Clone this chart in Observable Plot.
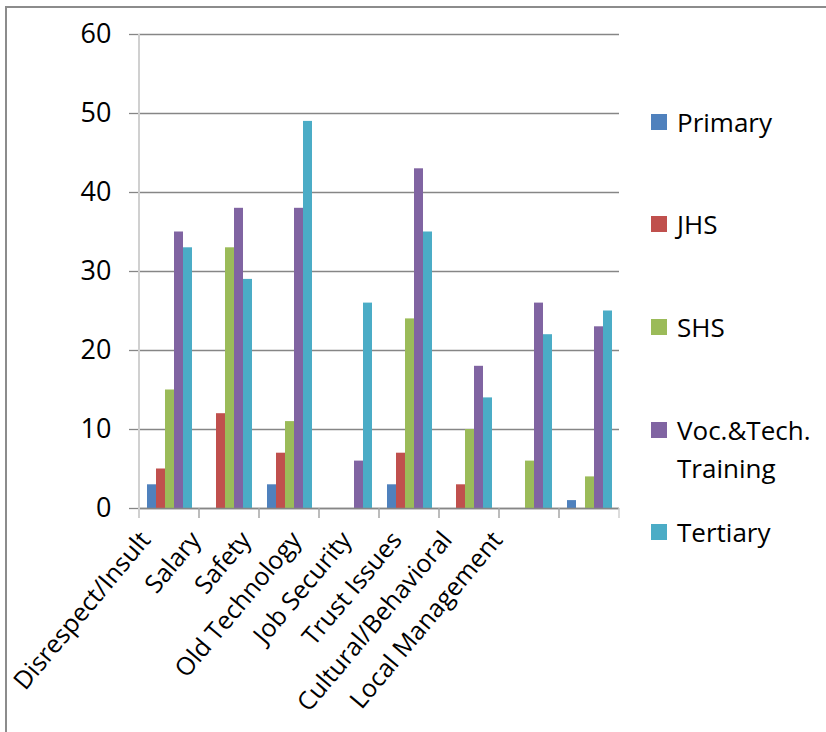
<!DOCTYPE html>
<html><head><meta charset="utf-8">
<script src="https://cdn.jsdelivr.net/npm/d3@7"></script>
<script src="https://cdn.jsdelivr.net/npm/@observablehq/plot@0.6"></script>
<style>
html,body{margin:0;padding:0;width:826px;height:732px;overflow:hidden;background:#fff;font-family:"Open Sans",sans-serif;}
#wrap{position:relative;width:826px;height:732px;overflow:hidden;}
#frame{position:absolute;left:5px;top:6px;width:900px;height:900px;border:2px solid #8c8c8c;box-sizing:border-box;}
#chart{position:absolute;left:0;top:0;}
#legend{position:absolute;left:651px;top:0;width:175px;height:732px;}
.item{position:absolute;left:0;width:175px;}
.sw{position:absolute;left:0;top:10px;width:16px;height:16px;}
.lab{position:absolute;left:26px;top:0;width:148px;font-size:26px;line-height:38px;color:#000;white-space:normal;margin-top:-1px;}
</style></head>
<body>
<div id="wrap"><div id="frame"></div><div id="chart"></div><div id="legend"></div></div>
<script>
const categories = ["Disrespect/Insult","Salary","Safety","Old Technology","Job Security","Trust Issues","Cultural/Behavioral","Local Management"];
const series = ["Primary","JHS","SHS","Voc.&Tech. Training","Tertiary"];
const primary  = [3, 0, 3, 0, 3, 0, 0, 1];
const jhs      = [5, 12, 7, 0, 7, 3, 0, 0];
const shs      = [15, 33, 11, 0, 24, 10, 6, 4];
const voc      = [35, 38, 38, 6, 43, 18, 26, 23];
const tertiary = [33, 29, 49, 26, 35, 14, 22, 25];
const colors = ["#4F81BD","#C0504D","#9BBB59","#8064A2","#4BACC6"];
const yTicks = [0, 10, 20, 30, 40, 50, 60];
const legendCenters = [122, 224, 327, 430, 532];

const valueSets = [primary, jhs, shs, voc, tertiary];
const data = [];
categories.forEach((c, i) => series.forEach((s, j) => {
  if (valueSets[j][i] > 0) data.push({category: c, series: s, value: valueSets[j][i]});
}));

// category labels: rotated, drifting left progressively as in the original layout
const labelMarks = categories.map((c, i) =>
  Plot.text([c], {fx: d => d, text: d => d, frameAnchor: "bottom", rotate: -50,
    textAnchor: "end", lineAnchor: "middle", fontSize: 25, fill: "#000",
    dx: -24 - 9.7 * i, dy: 27}));

const plot = Plot.plot({
  width: 826, height: 732,
  marginLeft: 136, marginRight: 204, marginTop: 34, marginBottom: 224,
  style: {fontFamily: '"Open Sans", sans-serif', background: "transparent", color: "#000", overflow: "visible"},
  fx: {domain: categories, padding: 0, label: null, axis: null},
  x: {domain: series, paddingInner: 0, paddingOuter: 0.77, axis: null},
  y: {domain: [0, 60], label: null, axis: null},
  color: {domain: series, range: colors},
  marks: [
    Plot.gridY(yTicks, {stroke: "#868686", strokeOpacity: 1, strokeWidth: 1.3}),
    Plot.axisY(yTicks, {tickSize: 10, tickPadding: 18, fontSize: 27, stroke: "#868686", strokeWidth: 1.3, fill: "#000", label: null}),
    Plot.barY(data, {fx: "category", x: "series", y: "value", fill: "series", insetLeft: 0, insetRight: 0}),
    Plot.ruleY([0], {stroke: "#868686", strokeWidth: 1.5}),
    ...labelMarks
  ]
});
document.getElementById("chart").appendChild(plot);

// axis line and category boundary ticks from the plot's own scales
const fxs = plot.scale("fx"), ys = plot.scale("y");
const svg = d3.select(plot);
const y0 = ys.apply(0), yTop = ys.apply(60);
const bounds = categories.map(c => fxs.apply(c));
bounds.push(fxs.apply(categories[categories.length - 1]) + fxs.bandwidth);
const g = svg.append("g");
g.append("line").attr("x1", bounds[0]).attr("x2", bounds[0]).attr("y1", yTop).attr("y2", y0 + 10)
  .attr("stroke", "#d0d0d0").attr("stroke-width", 2);
bounds.slice(1).forEach((b, i) => {
  g.append("line").attr("x1", b).attr("x2", b).attr("y1", y0).attr("y2", y0 + 10)
    .attr("stroke", i === bounds.length - 2 ? "#d0d0d0" : "#a6a6a6").attr("stroke-width", 1.5);
});

// legend
const leg = document.getElementById("legend");
series.forEach((s, i) => {
  const item = document.createElement("div");
  item.className = "item";
  item.style.top = (legendCenters[i] - 18) + "px";
  const sw = document.createElement("div");
  sw.className = "sw"; sw.style.background = colors[i];
  const lab = document.createElement("div");
  lab.className = "lab"; lab.textContent = s;
  item.appendChild(sw); item.appendChild(lab);
  leg.appendChild(item);
});
</script>
</body></html>
